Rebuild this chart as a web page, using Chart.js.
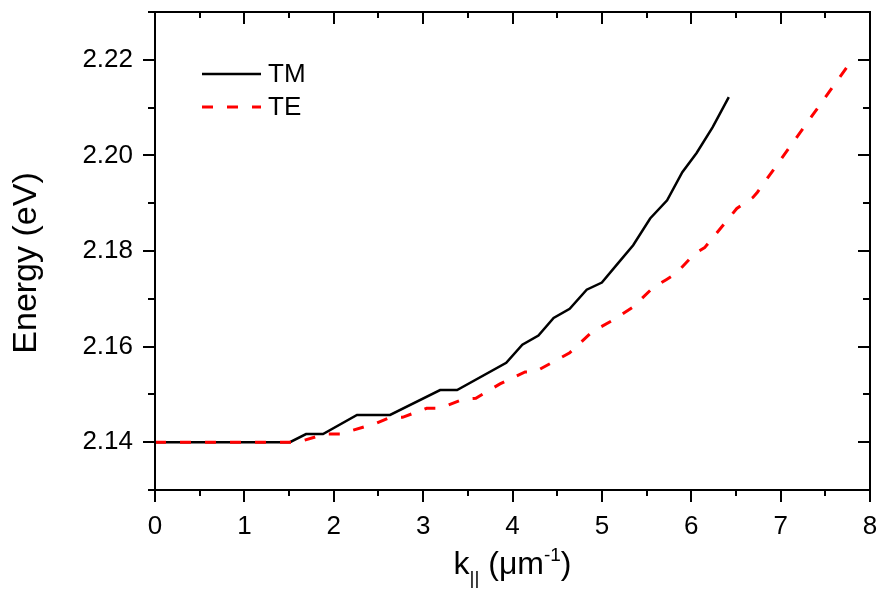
<!DOCTYPE html>
<html><head><meta charset="utf-8">
<script src="https://cdn.jsdelivr.net/npm/chart.js@4"></script>
<style>html,body{margin:0;padding:0;background:#fff}#wrap{width:880px;height:591px}</style>
</head><body><div id="wrap"><canvas id="c" width="880" height="591"></canvas></div>
<script>
// ---- data ----
const tmK = [0, 1.51, 1.69, 1.88, 2.26, 2.63, 3.19, 3.38, 3.93, 4.11, 4.29, 4.46, 4.64, 4.83, 5.00, 5.17, 5.35, 5.54, 5.73, 5.90, 6.06, 6.24, 6.42];
const tmE = [2.1400, 2.1400, 2.1417, 2.1417, 2.1457, 2.1457, 2.1509, 2.1509, 2.1566, 2.1604, 2.1623, 2.1660, 2.1679, 2.1719, 2.1734, 2.1772, 2.1812, 2.1868, 2.1906, 2.1965, 2.2005, 2.2059, 2.2122];
const teK = [0, 1.60, 1.90, 2.07, 2.48, 2.63, 2.77, 3.04, 3.19, 3.45, 3.59, 3.86, 4.14, 4.25, 4.64, 4.89, 5.11, 5.35, 5.57, 5.72, 5.83, 6.04, 6.15, 6.51, 6.69, 6.74, 7.77];
const teE = [2.1400, 2.1400, 2.1417, 2.1417, 2.1440, 2.1452, 2.1452, 2.1471, 2.1471, 2.1490, 2.1492, 2.1522, 2.1547, 2.1547, 2.1587, 2.1631, 2.1654, 2.1683, 2.1723, 2.1740, 2.1753, 2.1795, 2.1807, 2.1889, 2.1912, 2.1923, 2.2192];
const seriesNames = ['TM', 'TE'];
const xTickValues = [0, 1, 2, 3, 4, 5, 6, 7, 8];
const yTickLabels = ['2.14', '2.16', '2.18', '2.20', '2.22'];
const xTitleParts = ['k', '||', ' (\u03BCm', '-1', ')'];
const yTitle = 'Energy (eV)';

const FONT = "'Liberation Sans', Arial, Helvetica, sans-serif";
const toPts = (ks, es) => ks.map((k, i) => ({x: k, y: es[i]}));

const framePlugin = {
  id: 'frame',
  afterDraw(chart) {
    const {ctx, chartArea: a, scales: {x, y}} = chart;
    ctx.save();
    ctx.strokeStyle = '#000';
    ctx.lineWidth = 2;
    ctx.setLineDash([]);
    ctx.strokeRect(a.left, a.top, a.right - a.left, a.bottom - a.top);
    const seg = (x1, y1, x2, y2) => { ctx.beginPath(); ctx.moveTo(x1, y1); ctx.lineTo(x2, y2); ctx.stroke(); };
    for (let i = 0; i <= 16; i++) {
      const v = i / 2;
      const px = Math.round(x.getPixelForValue(v));
      const L = (i % 2 === 0) ? 12 : 6;
      seg(px, a.bottom, px, a.bottom + L);
      seg(px, a.top, px, a.top + L);
    }
    for (let i = 213; i <= 223; i++) {
      const py = Math.round(y.getPixelForValue(i / 100));
      const L = (i % 2 === 0) ? 12 : 7;
      seg(a.left - L, py, a.left, py);
      seg(a.right - L, py, a.right, py);
    }
    // legend
    chart.data.datasets.forEach((ds, i) => {
      const ly = a.top + 62 + i * 33;
      ctx.strokeStyle = ds.borderColor;
      ctx.lineWidth = ds.borderWidth;
      ctx.setLineDash(ds.borderDash || []);
      seg(a.left + 47, ly, a.left + 106, ly);
      ctx.setLineDash([]);
      ctx.fillStyle = '#000';
      ctx.font = '26px ' + FONT;
      ctx.textBaseline = 'middle';
      ctx.textAlign = 'left';
      ctx.fillText(ds.label, a.left + 113, ly + 1);
    });
    // x title with subscript / superscript
    const big = '32px ' + FONT, small = '19px ' + FONT;
    const styles = [big, small, big, small, big];
    const dy = [0, 10, 0, -13, 0];
    let total = 0;
    const widths = xTitleParts.map((t, i) => { ctx.font = styles[i]; const w = ctx.measureText(t).width; total += w; return w; });
    let cx = (a.left + a.right) / 2 - total / 2;
    const base = 574;
    ctx.fillStyle = '#000';
    ctx.textBaseline = 'alphabetic';
    ctx.textAlign = 'left';
    xTitleParts.forEach((t, i) => { ctx.font = styles[i]; ctx.fillText(t, cx, base + dy[i]); cx += widths[i]; });
    // y title
    ctx.save();
    ctx.translate(36, (a.top + a.bottom) / 2 + 12);
    ctx.rotate(-Math.PI / 2);
    ctx.font = '34px ' + FONT;
    ctx.textAlign = 'center';
    ctx.textBaseline = 'alphabetic';
    ctx.fillText(yTitle, 0, 0);
    ctx.restore();
    ctx.restore();
  }
};

new Chart(document.getElementById('c'), {
  type: 'line',
  data: {
    datasets: [
      {label: seriesNames[0], data: toPts(tmK, tmE), borderColor: '#000000', borderWidth: 2.5, pointRadius: 0, tension: 0, fill: false, order: 1},
      {label: seriesNames[1], data: toPts(teK, teE), borderColor: '#ff0000', borderWidth: 3, borderDash: [11, 14], pointRadius: 0, tension: 0, fill: false, order: 0}
    ]
  },
  options: {
    responsive: false,
    animation: false,
    devicePixelRatio: 1,
    layout: {padding: {top: 12, right: 10, left: 0, bottom: 0}},
    plugins: {legend: {display: false}, tooltip: {enabled: false}},
    scales: {
      x: {
        type: 'linear', min: 0, max: 8,
        afterFit: s => { s.height = 101; s.paddingLeft = 0; s.paddingRight = 0; },
        afterBuildTicks: s => { s.ticks = xTickValues.map(v => ({value: v})); },
        grid: {display: false, drawTicks: false},
        border: {display: false},
        ticks: {padding: 21, color: '#000', font: {family: FONT, size: 26}, maxRotation: 0, autoSkip: false, callback: v => String(v)}
      },
      y: {
        type: 'linear', min: 2.13, max: 2.23,
        afterFit: s => { s.width = 155; s.paddingTop = 0; s.paddingBottom = 0; },
        afterBuildTicks: s => { s.ticks = yTickLabels.map(t => ({value: parseFloat(t)})); },
        grid: {display: false, drawTicks: false},
        border: {display: false},
        title: {display: false, text: yTitle},
        ticks: {padding: 22, color: '#000', font: {family: FONT, size: 26}, autoSkip: false, callback: v => v.toFixed(2)}
      }
    }
  },
  plugins: [framePlugin]
});
</script>
</body></html>
